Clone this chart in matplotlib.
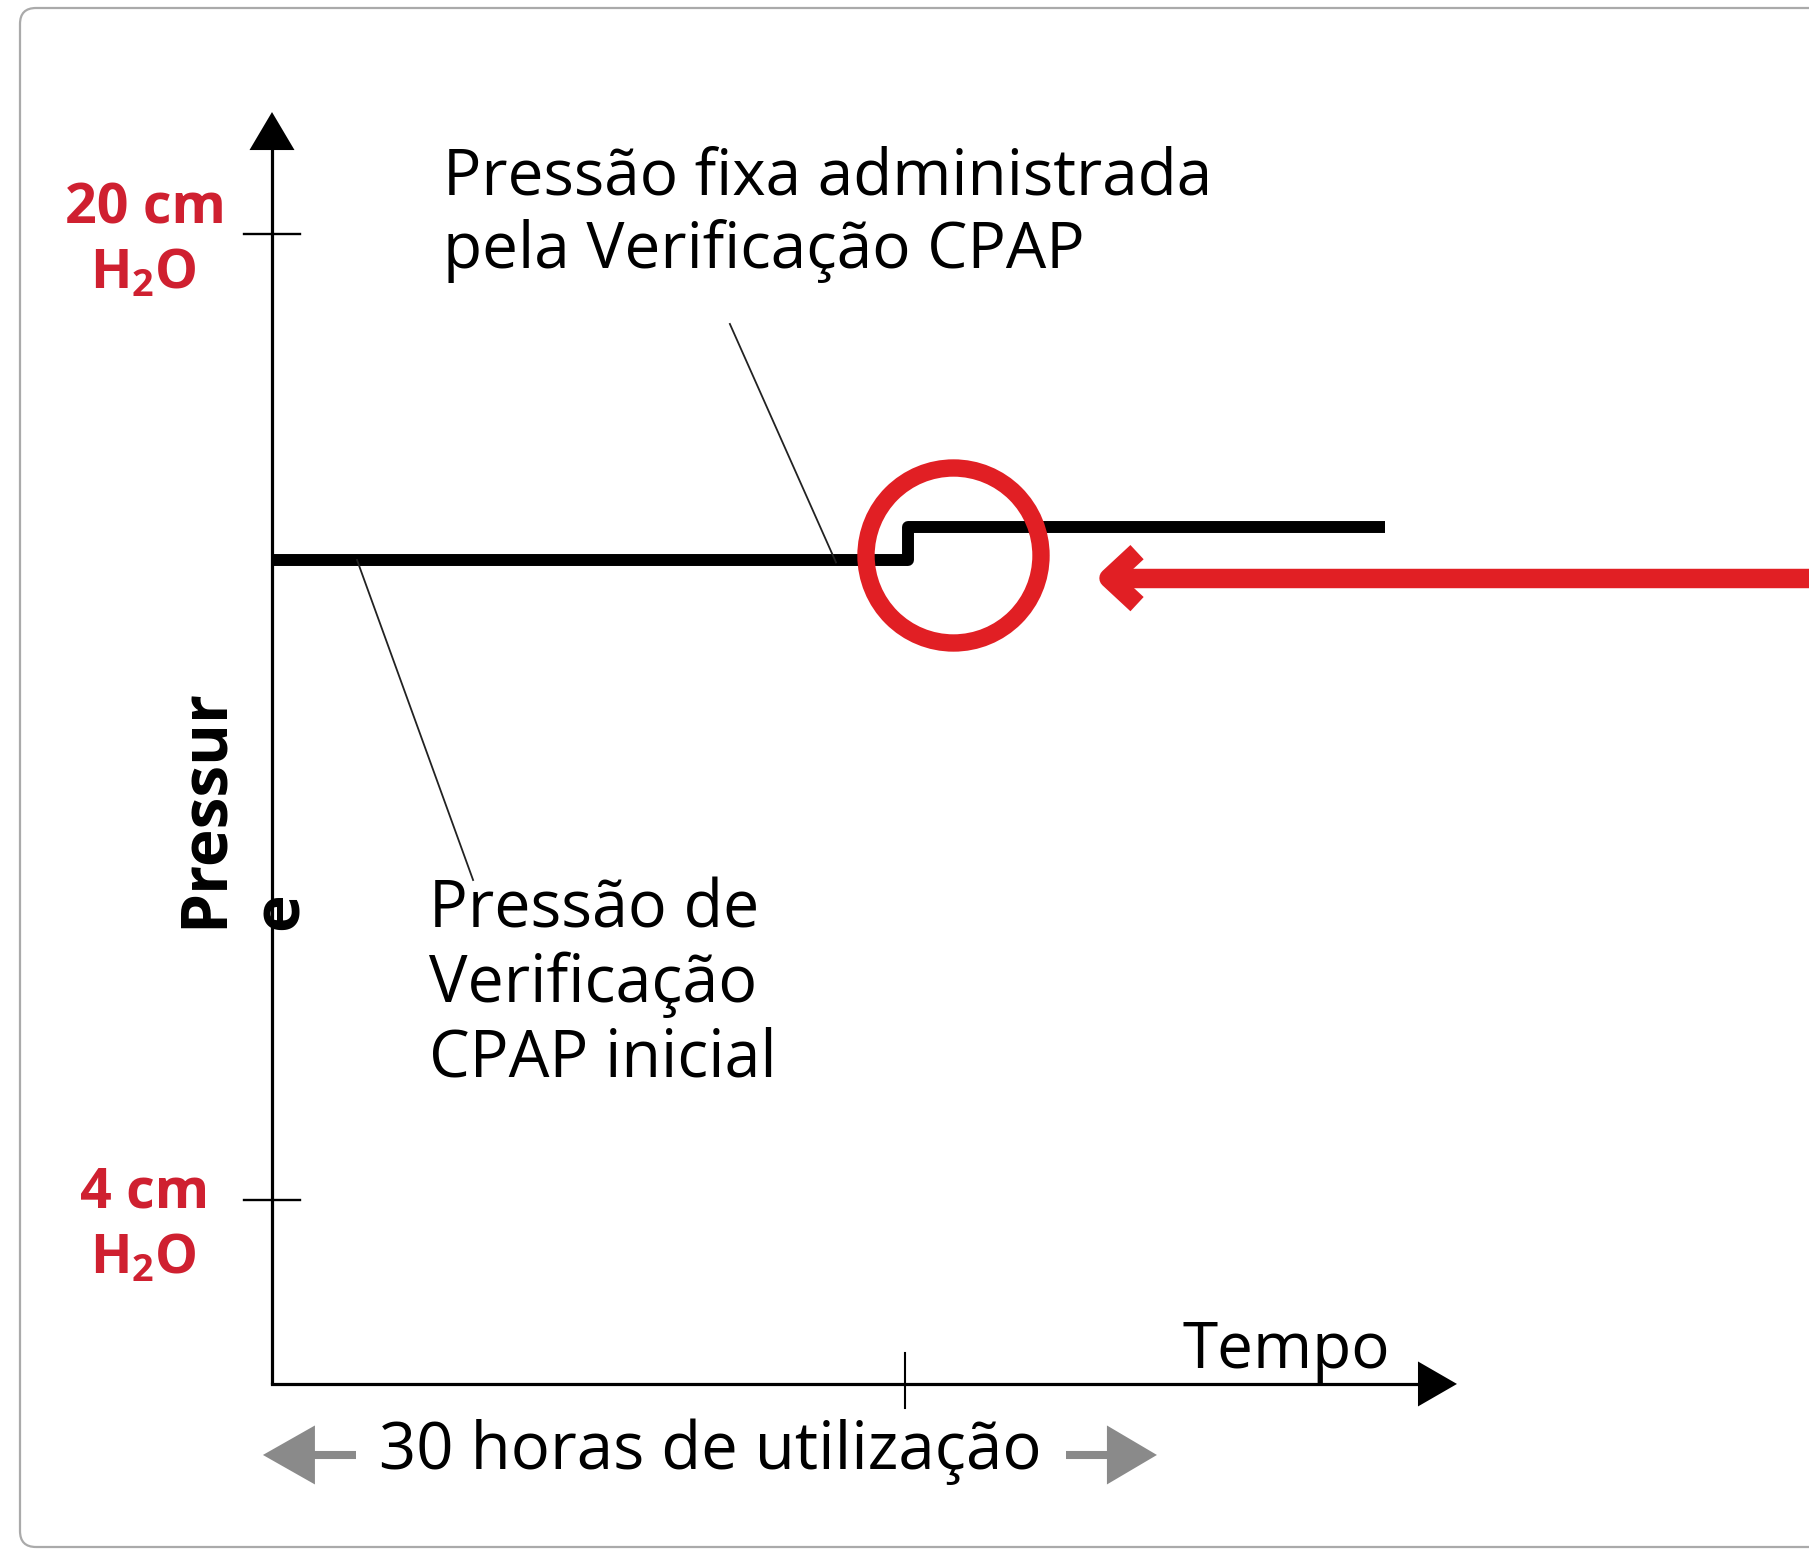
import numpy as np
import matplotlib.pyplot as plt
from matplotlib.patches import FancyBboxPatch
from matplotlib.transforms import IdentityTransform

plt.rcParams['font.family'] = ['Open Sans', 'DejaVu Sans']
plt.rcParams['mathtext.fontset'] = 'custom'
plt.rcParams['mathtext.rm'] = 'Open Sans'
plt.rcParams['mathtext.bf'] = 'Open Sans:bold'

# pressure delivered over time (hours, cm H2O) - diagram values
step_hours = [0, 30.15, 30.15, 52.75]
step_pressure = [14.6, 14.6, 15.15, 15.15]

# axis ticks / labels
tick_pressures = [20, 4]
tick_values = ["20 cm", "4 cm"]
value_baselines = [20.18, 3.88]
unit_baselines = [19.1, 2.79]
time_tick = 30
axis_origin = 0.953
y_axis_top = 22.02
x_axis_end = 56.16

# highlight marks
circle_hour, circle_pressure = 32.27, 14.68
pointer_hour, pointer_pressure = 39.67, 14.30

# texts
label_fixed = ["Pressão fixa administrada", "pela Verificação CPAP"]
label_fixed_base = [20.65, 19.44]
label_initial = ["Pressão de", "Verificação", "CPAP inicial"]
label_initial_base = [8.52, 7.28, 6.04]
leader_fixed = ([21.7, 26.73], [18.51, 14.56])
leader_initial = ([4.03, 9.53], [14.6, 9.30])

# drawing scale (pixels per unit) used for the fixed-size arrow heads
PX_H = 21.1
PX_P = 60.375
W, H = 1809, 1550
X0, Y20 = 272, 234

RED_TXT = '#cf2030'
RED = '#e11f24'
GREY = '#8a8a8a'

fig = plt.figure(figsize=(W / 100, H / 100), dpi=100)
ax = fig.add_axes([0, 0, 1, 1])
ax.set_xlim(-X0 / PX_H, (W - X0) / PX_H)
ax.set_ylim(20 - (H - Y20) / PX_P, 20 + Y20 / PX_P)
ax.axis('off')

# rounded frame
frame = FancyBboxPatch((20, 3), 1900, 1539, boxstyle="round,pad=0,rounding_size=16",
                       transform=IdentityTransform(), fill=False, ec='#aaaaaa', lw=1.6)
fig.patches.append(frame)

def px_h(px):
    return px / PX_H

def px_p(px):
    return px / PX_P

# axes with arrow heads
ax.plot([0, 0], [axis_origin, y_axis_top - px_p(36)], color='black', lw=2.3, solid_capstyle='butt')
ax.plot([0, x_axis_end - px_h(36)], [axis_origin, axis_origin], color='black', lw=2.3,
        solid_capstyle='projecting')
ax.fill([0, -px_h(22.5), px_h(22.5)], [y_axis_top, y_axis_top - px_p(38), y_axis_top - px_p(38)],
        color='black', lw=0)
ax.fill([x_axis_end, x_axis_end - px_h(39), x_axis_end - px_h(39)],
        [axis_origin, axis_origin + px_p(22.5), axis_origin - px_p(22.5)], color='black', lw=0)

# ticks
for p in tick_pressures:
    ax.plot([-px_h(28), px_h(28)], [p, p], color='black', lw=1.7)
ax.plot([time_tick, time_tick], [axis_origin - px_p(24), axis_origin + px_p(31)], color='black', lw=1.5)

# tick labels
for p, v, vb, ub in zip(tick_pressures, tick_values, value_baselines, unit_baselines):
    ax.text(-6.02, vb, v, color=RED_TXT, fontsize=40, fontweight='bold', ha='center', va='baseline')
    ax.text(-6.1, ub, r"$\mathbf{H_{2}O}$", color=RED_TXT, fontsize=39,
            ha='center', va='baseline')

# axis titles
ax.text(-2.37, 8.505, "Pressur", fontsize=46, fontweight='bold', rotation=90,
        rotation_mode='anchor', ha='left', va='baseline')
ax.text(1.23, 8.47, "e", fontsize=46, fontweight='bold', rotation=90,
        rotation_mode='anchor', ha='left', va='baseline')
ax.text(43.17, 1.22, "Tempo", fontsize=46, ha='left', va='baseline')

# pressure trace
ax.plot(step_hours, step_pressure, color='black', lw=8.6, solid_joinstyle='round',
        solid_capstyle='butt')

# leader lines and annotations
ax.plot(*leader_fixed, color='#222222', lw=1.3)
ax.plot(*leader_initial, color='#222222', lw=1.3)
for line, b in zip(label_fixed, label_fixed_base):
    ax.text(8.1, b, line, fontsize=46, ha='left', va='baseline')
for line, b in zip(label_initial, label_initial_base):
    ax.text(7.45, b, line, fontsize=46.5, ha='left', va='baseline')

# red highlight circle and pointer
ax.plot([circle_hour], [circle_pressure], marker='o', ms=126, mfc='none', mec=RED, mew=12.5)
ax.plot([pointer_hour + px_h(28), pointer_hour, pointer_hour + px_h(28)],
        [pointer_pressure + px_p(26), pointer_pressure, pointer_pressure - px_p(26)],
        color=RED, lw=14, solid_joinstyle='round', solid_capstyle='butt')
ax.plot([pointer_hour, 80], [pointer_pressure, pointer_pressure], color=RED, lw=14,
        solid_capstyle='butt')

# grey span arrows under the time axis
span_left, span_right, span_p = -0.43, 41.94, -0.223
ax.plot([span_left + px_h(50), span_left + px_h(93)], [span_p, span_p], color=GREY, lw=5.8,
        solid_capstyle='butt')
ax.fill([span_left, span_left + px_h(52), span_left + px_h(52)],
        [span_p, span_p + px_p(29.5), span_p - px_p(29.5)], color=GREY, lw=0)
ax.plot([span_right - px_h(91), span_right - px_h(48)], [span_p, span_p], color=GREY, lw=5.8,
        solid_capstyle='butt')
ax.fill([span_right, span_right - px_h(50), span_right - px_h(50)],
        [span_p, span_p + px_p(29.5), span_p - px_p(29.5)], color=GREY, lw=0)
ax.text(20.76, -0.46, "30 horas de utilização", fontsize=47, ha='center', va='baseline')

fig.savefig('out.png', dpi=100)
